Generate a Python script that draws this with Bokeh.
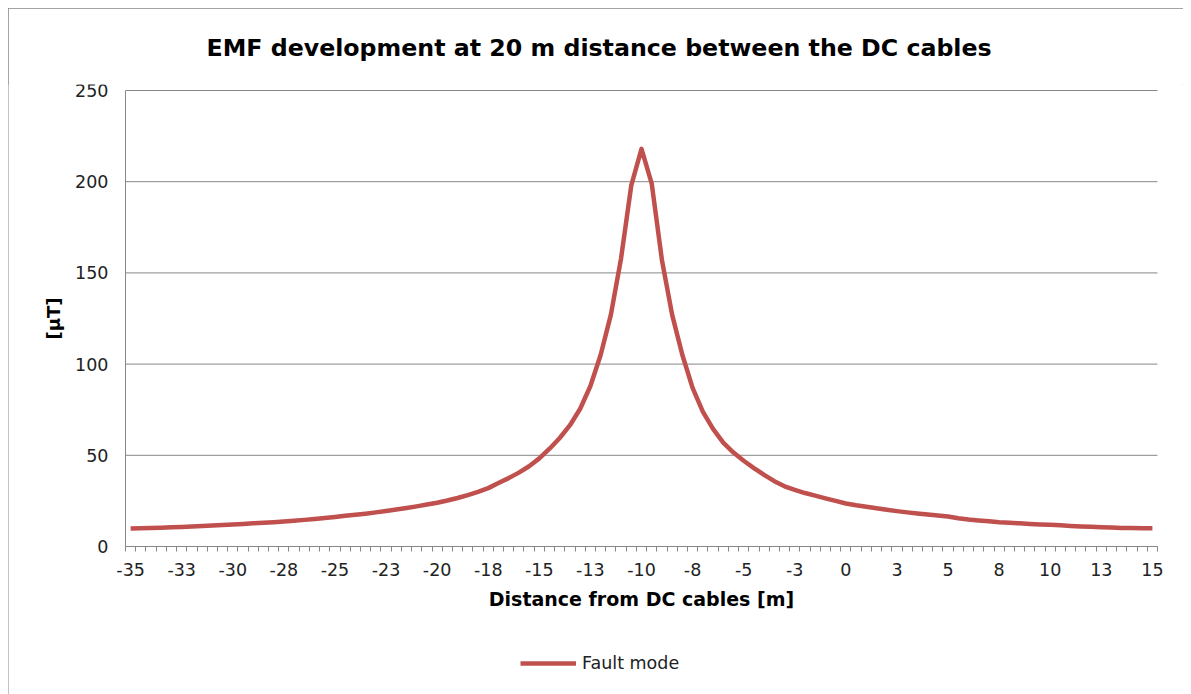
from bokeh.plotting import figure
from bokeh.models import Range1d, FixedTicker, Legend, LegendItem, ColumnDataSource
from bokeh.embed import file_html
from bokeh.resources import INLINE

# ---- data ----
distance_m = [
    -35.0, -34.5, -34.0, -33.5, -33.0, -32.5, -32.0, -31.5, -31.0, -30.5,
    -30.0, -29.5, -29.0, -28.5, -28.0, -27.5, -27.0, -26.5, -26.0, -25.5,
    -25.0, -24.5, -24.0, -23.5, -23.0, -22.5, -22.0, -21.5, -21.0, -20.5,
    -20.0, -19.5, -19.0, -18.5, -18.0, -17.5, -17.0, -16.5, -16.0, -15.5,
    -15.0, -14.5, -14.0, -13.5, -13.0, -12.5, -12.0, -11.5, -11.0, -10.5,
    -10.0, -9.5, -9.0, -8.5, -8.0, -7.5, -7.0, -6.5, -6.0, -5.5,
    -5.0, -4.5, -4.0, -3.5, -3.0, -2.5, -2.0, -1.5, -1.0, -0.5,
    0.0, 0.5, 1.0, 1.5, 2.0, 2.5, 3.0, 3.5, 4.0, 4.5,
    5.0, 5.5, 6.0, 6.5, 7.0, 7.5, 8.0, 8.5, 9.0, 9.5,
    10.0, 10.5, 11.0, 11.5, 12.0, 12.5, 13.0, 13.5, 14.0, 14.5,
    15.0,
]
fault_mode_uT = [
    9.9, 10.0, 10.1, 10.3, 10.5, 10.7, 10.9, 11.2, 11.5, 11.8,
    12.1, 12.4, 12.7, 13.0, 13.3, 13.7, 14.1, 14.6, 15.1, 15.6,
    16.2, 16.8, 17.4, 18.0, 18.7, 19.5, 20.3, 21.1, 22.0, 23.0,
    24.0, 25.2, 26.6, 28.2, 29.9, 32.0, 34.8, 37.5, 40.5, 44.0,
    48.3, 53.6, 59.5, 66.5, 75.5, 88.0, 105.0, 127.0, 158.0, 198.0,
    218.0, 199.0, 157.0, 127.0, 105.0, 87.0, 74.0, 64.5, 57.0, 51.5,
    47.0, 43.0, 39.3, 35.8, 33.0, 31.0, 29.3, 27.9, 26.4, 25.0,
    23.6, 22.6, 21.8, 21.0, 20.2, 19.4, 18.7, 18.1, 17.5, 17.0,
    16.4, 15.5, 14.8, 14.3, 13.8, 13.3, 13.0, 12.7, 12.4, 12.1,
    11.9, 11.6, 11.3, 11.0, 10.8, 10.6, 10.4, 10.2, 10.1, 10.0,
    10.0,
]
x_tick_values = [-35, -32.5, -30, -27.5, -25, -22.5, -20, -17.5, -15, -12.5, -10,
                 -7.5, -5, -2.5, 0, 2.5, 5, 7.5, 10, 12.5, 15]
x_tick_labels = ["-35", "-33", "-30", "-28", "-25", "-23", "-20", "-18", "-15", "-13", "-10",
                 "-8", "-5", "-3", "0", "3", "5", "8", "10", "13", "15"]
y_tick_values = [0, 50, 100, 150, 200, 250]
y_axis_min, y_axis_max = 0, 250

title_text = "EMF development at 20 m distance between the DC cables"
x_title = "Distance from DC cables [m]"
y_title = "[\u00b5T]"
series_name = "Fault mode"

# ---- styling / geometry (pixels, figure coordinates) ----
FONT = "DejaVu Sans"
GRID = "#878787"
RED = "#C0504D"
FIG_W, FIG_H = 1175, 686
FRAME_TOP = 76          # title panel height (text ~30px + standoff 46)
AREA_L, AREA_R = 117, 1149   # plot-area left / right edges
AREA_T, AREA_B = 82, 538     # plot-area top (250) / bottom (0)

step = distance_m[1] - distance_m[0]
x_lo = distance_m[0] - step / 2
x_hi = distance_m[-1] + step / 2
category_bounds = [x_lo + step * k for k in range(len(distance_m) + 1)]

px_x = (AREA_R - AREA_L) / (x_hi - x_lo)
px_y = (AREA_B - AREA_T) / (y_axis_max - y_axis_min)
xr = Range1d(x_lo - AREA_L / px_x, x_hi + (FIG_W - AREA_R) / px_x)
yr = Range1d(y_axis_min - (FIG_H - AREA_B) / px_y, y_axis_max + (AREA_T - FRAME_TOP) / px_y)

p = figure(width=FIG_W, height=FIG_H, output_backend="svg", toolbar_location=None,
           x_range=xr, y_range=yr,
           min_border_left=0, min_border_right=0, min_border_top=0,
           min_border_bottom=0)
p.margin = (8, 8, 0, 8)
p.styles = {"outline": "1px solid #868686", "outline-offset": "-1px"}
p.outline_line_color = None
p.background_fill_color = "white"
p.border_fill_color = "white"

# horizontal gridlines over the plot area only
p.segment(x0=[x_lo] * len(y_tick_values), x1=[x_hi] * len(y_tick_values),
          y0=y_tick_values, y1=y_tick_values, line_color=GRID, line_width=1)

src = ColumnDataSource(dict(x=distance_m, y=fault_mode_uT))
r = p.line("x", "y", source=src, line_color=RED, line_width=4.5, line_join="round")

# title
p.title.text = title_text
p.title.align = "left"
p.title.offset = 198
p.title.text_font = FONT
p.title.text_font_size = "23.7px"
p.title.text_font_style = "bold"
p.title.text_color = "black"
p.title.standoff = 46

# x axis, pinned at y = 0
xa = p.xaxis[0]
xa.fixed_location = y_axis_min
xa.bounds = (x_lo, x_hi)
xa.ticker = FixedTicker(ticks=x_tick_values, minor_ticks=category_bounds)
xa.major_label_overrides = {v: l for v, l in zip(x_tick_values, x_tick_labels)}
xa.major_tick_line_color = None
xa.major_tick_out = 0
xa.major_tick_in = 0
xa.minor_tick_line_color = GRID
xa.minor_tick_out = 5
xa.minor_tick_in = 0
xa.axis_line_color = GRID
xa.major_label_standoff = 11
xa.major_label_text_font = FONT
xa.major_label_text_font_size = "17.5px"
xa.major_label_text_color = "#222222"
xa.axis_label = x_title
xa.axis_label_text_font = FONT
xa.axis_label_text_font_size = "19px"
xa.axis_label_text_font_style = "bold"
xa.axis_label_text_color = "black"
xa.axis_label_standoff = 9

# y axis, pinned at the left edge of the plot area, drawn only over 0..250
ya = p.yaxis[0]
ya.fixed_location = x_lo
ya.bounds = (y_axis_min, y_axis_max)
ya.ticker = FixedTicker(ticks=y_tick_values)
ya.major_tick_line_color = None
ya.major_tick_out = 0
ya.major_tick_in = 0
ya.minor_tick_line_color = None
ya.axis_line_color = GRID
ya.major_label_standoff = 17
ya.major_label_text_font = FONT
ya.major_label_text_font_size = "17.5px"
ya.major_label_text_color = "#222222"
ya.axis_label = y_title
ya.axis_label_text_font = FONT
ya.axis_label_text_font_size = "18px"
ya.axis_label_text_font_style = "bold"
ya.axis_label_text_color = "black"
ya.axis_label_standoff = 8

p.xgrid.grid_line_color = None
p.ygrid.grid_line_color = None

legend = Legend(items=[LegendItem(label=series_name, renderers=[r])],
                location=(512, 21), orientation="horizontal",
                glyph_width=56, glyph_height=20, label_standoff=6,
                padding=0, margin=0, border_line_color=None,
                background_fill_alpha=0,
                label_text_font=FONT, label_text_font_size="17.5px",
                label_text_color="#222222")
p.add_layout(legend, "center")

open("out.html", "w").write(file_html(p, INLINE))
